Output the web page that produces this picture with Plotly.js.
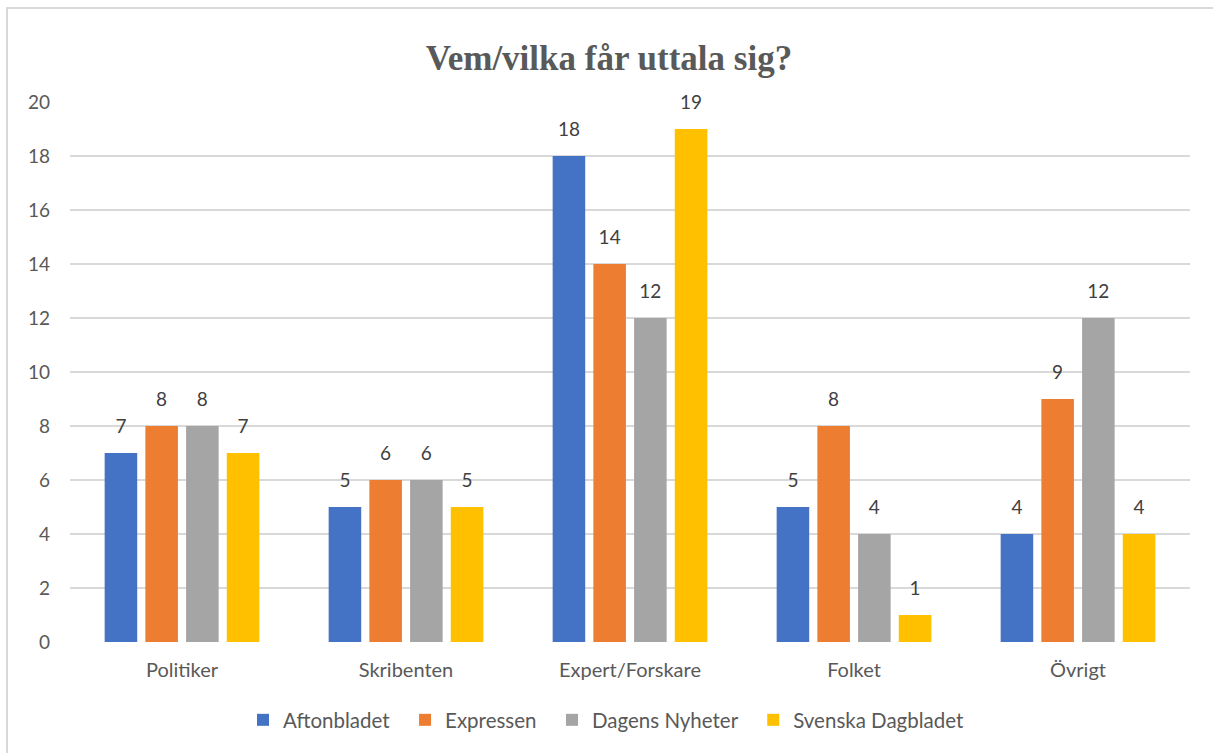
<!DOCTYPE html>
<html>
<head>
<meta charset="utf-8">
<script src="https://cdn.plot.ly/plotly-3.0.1.min.js"></script>
<style>
  html, body { margin: 0; padding: 0; background: #ffffff; }
  #chart { width: 1213px; height: 753px; }
</style>
</head>
<body>
<div id="chart"></div>
<script>
const categories = ["Politiker", "Skribenten", "Expert/Forskare", "Folket", "Övrigt"];
const seriesNames = ["Aftonbladet", "Expressen", "Dagens Nyheter", "Svenska Dagbladet"];
const aftonbladet = [7, 5, 18, 5, 4];
const expressen = [8, 6, 14, 8, 9];
const dagensNyheter = [8, 6, 12, 4, 12];
const svenskaDagbladet = [7, 5, 19, 1, 4];
const yTickValues = [0, 2, 4, 6, 8, 10, 12, 14, 16, 18, 20];

const seriesValues = [aftonbladet, expressen, dagensNyheter, svenskaDagbladet];
const colors = ["#4472C4", "#ED7D31", "#A5A5A5", "#FFC000"];
const NBSP2 = "\u00A0\u00A0";

const BARGAP = 0.273;
const traces = [];
seriesValues.forEach((vals, i) => {
  traces.push({
    type: "bar",
    name: seriesNames[i] + NBSP2,
    x: categories,
    y: vals,
    marker: { color: colors[i], line: { width: 0 } },
    offsetgroup: "g" + i,
    hoverinfo: "skip"
  });
});
seriesValues.forEach((vals, i) => {
  traces.push({
    type: "scatter",
    mode: "markers+text",
    x: categories,
    y: vals,
    text: vals.map(String),
    textposition: "top center",
    textfont: { family: "Lato, sans-serif", size: 19, color: "#404040" },
    marker: { size: 23, opacity: 0, color: colors[i] },
    offsetgroup: "g" + i,
    cliponaxis: false,
    showlegend: false,
    hoverinfo: "skip"
  });
});

const L = 70, R = 23, T = 102, B = 111;
const W = 1213, H = 753;
const pw = W - L - R, ph = H - T - B;
// frame line (light border, left and top edges)
const fx = (7 - L) / pw, fy = (H - B - 8) / ph;

const layout = {
  width: W,
  height: H,
  margin: { l: L, r: R, t: T, b: B },
  paper_bgcolor: "#ffffff",
  plot_bgcolor: "#ffffff",
  barmode: "group",
  bargap: BARGAP,
  bargroupgap: 0.2,
  scattermode: "group",
  scattergap: BARGAP,
  title: {
    text: "Vem/vilka får uttala sig?",
    font: { family: "Liberation Serif, Times New Roman, serif", size: 35, color: "#595959", weight: "bold" },
    x: 0.502,
    xanchor: "center",
    xref: "container",
    y: 1 - 58 / H,
    yanchor: "middle",
    yref: "container"
  },
  xaxis: {
    type: "category",
    showgrid: false,
    zeroline: false,
    showline: false,
    ticks: "",
    tickfont: { family: "Lato, sans-serif", size: 20, color: "#595959" },
    ticklabelstandoff: 14,
    fixedrange: true
  },
  yaxis: {
    range: [0, 20],
    tickvals: yTickValues,
    ticktext: yTickValues.map(String),
    showgrid: true,
    gridcolor: "#d9d9d9",
    gridwidth: 1.5,
    zeroline: false,
    showline: false,
    ticks: "",
    tickfont: { family: "Lato, sans-serif", size: 19, color: "#595959" },
    ticklabelstandoff: 19,
    fixedrange: true
  },
  legend: {
    orientation: "h",
    x: (243 - L) / pw,
    xanchor: "left",
    y: (H - B - 720) / ph,
    yanchor: "middle",
    font: { family: "Lato, sans-serif", size: 20.5, color: "#595959" },
    traceorder: "normal"
  },
  shapes: [
    {
      type: "path",
      xref: "paper",
      yref: "paper",
      path: "M " + fx + " -0.5 L " + fx + " " + fy + " L 1.2 " + fy,
      line: { color: "#d9d9d9", width: 2 },
      layer: "below"
    }
  ],
  showlegend: true
};

Plotly.newPlot("chart", traces, layout, { displayModeBar: false, staticPlot: true });
</script>
</body>
</html>
